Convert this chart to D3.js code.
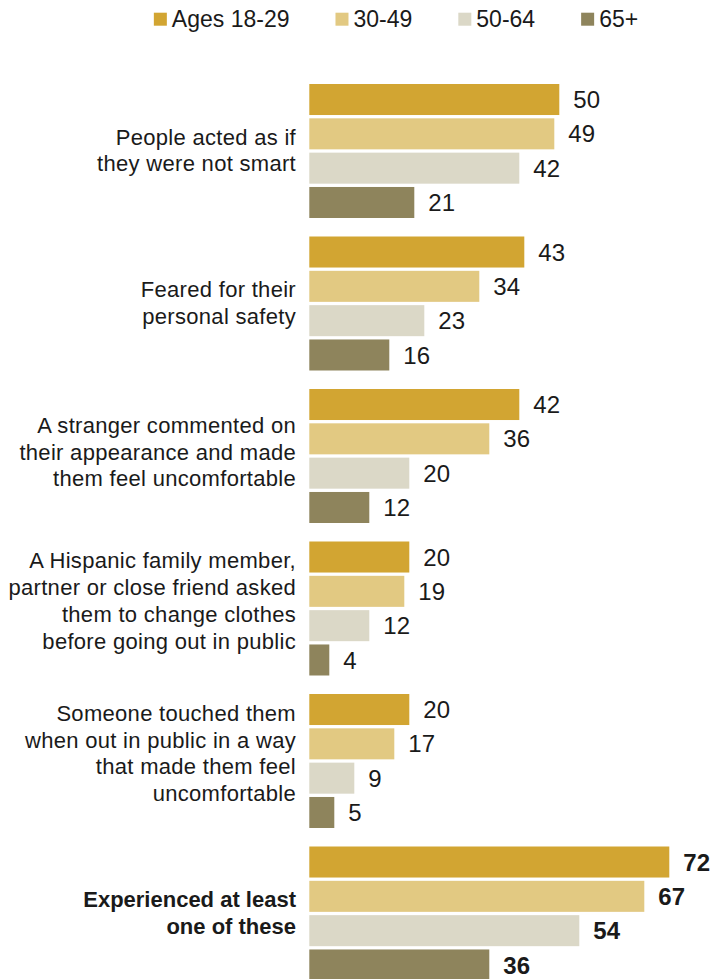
<!DOCTYPE html>
<html>
<head>
<meta charset="utf-8">
<script src="https://cdn.jsdelivr.net/npm/d3@7"></script>
<style>
  html, body { margin: 0; padding: 0; background: #fff; }
  svg { display: block; }
  text { font-family: "Liberation Sans", Arial, sans-serif; fill: #1a1a1a; }
</style>
</head>
<body>
<svg id="chart" width="715" height="979"></svg>
<script>
// Share of Hispanic adults who experienced each situation, by age group
const categories = [
  ["People acted as if", "they were not smart"],
  ["Feared for their", "personal safety"],
  ["A stranger commented on", "their appearance and made", "them feel uncomfortable"],
  ["A Hispanic family member,", "partner or close friend asked", "them to change clothes", "before going out in public"],
  ["Someone touched them", "when out in public in a way", "that made them feel", "uncomfortable"],
  ["Experienced at least", "one of these"]
];
const seriesNames = ["Ages 18-29", "30-49", "50-64", "65+"];
const ages18to29 = [50, 43, 42, 20, 20, 72];
const ages30to49 = [49, 34, 36, 19, 17, 67];
const ages50to64 = [42, 23, 20, 12, 9, 54];
const ages65plus = [21, 16, 12, 4, 5, 36];
const seriesColors = ["#d2a532", "#e2c982", "#dbd8c7", "#8e845c"];

const seriesValues = [ages18to29, ages30to49, ages50to64, ages65plus];
const totalIndex = categories.length - 1;

const svg = d3.select("#chart");

const groupIdx = d3.range(categories.length);
const y0 = d3.scaleBand()
  .domain(groupIdx)
  .range([84, 84 + categories.length * 152.5 - 18.5])
  .paddingInner(18.5 / 152.5)
  .paddingOuter(0);

const y1 = d3.scaleBand()
  .domain(d3.range(seriesNames.length))
  .range([0, y0.bandwidth()])
  .paddingInner(0.096)
  .paddingOuter(0);

const x = d3.scaleLinear().domain([0, 100]).range([309.3, 809.3]);

// Legend
const legend = svg.append("g").attr("class", "legend");
let lx = 0;
seriesNames.forEach((name, i) => {
  const item = legend.append("g").attr("transform", `translate(${lx},0)`);
  item.append("rect")
    .attr("x", 0).attr("y", 12.7)
    .attr("width", 13).attr("height", 13)
    .attr("fill", seriesColors[i]);
  const t = item.append("text")
    .attr("x", 18).attr("y", 26.5)
    .attr("font-size", 23)
    .text(name);
  lx += 18 + t.node().getComputedTextLength() + 46;
});
const legendWidth = lx - 46;
legend.attr("transform", `translate(${396 - legendWidth / 2},0)`);

// Bars and value labels
const groups = svg.append("g").selectAll("g.group")
  .data(groupIdx)
  .join("g")
  .attr("class", "group")
  .attr("transform", g => `translate(0,${y0(g)})`);

groups.selectAll("rect")
  .data(g => seriesValues.map((vals, s) => ({ g, s, v: vals[g] })))
  .join("rect")
  .attr("x", x(0))
  .attr("y", d => y1(d.s))
  .attr("width", d => x(d.v) - x(0))
  .attr("height", y1.bandwidth())
  .attr("fill", d => seriesColors[d.s]);

groups.selectAll("text.value")
  .data(g => seriesValues.map((vals, s) => ({ g, s, v: vals[g] })))
  .join("text")
  .attr("class", "value")
  .attr("x", d => x(d.v) + 14)
  .attr("y", d => y1(d.s) + y1.bandwidth() / 2 + 8.6)
  .attr("font-size", 24)
  .attr("font-weight", d => d.g === totalIndex ? "bold" : "normal")
  .text(d => d.v);

// Category labels, right-aligned beside each group
const lineH = 26.7;
groups.each(function (g) {
  const lines = categories[g];
  const n = lines.length;
  const center = y0.bandwidth() / 2;
  const first = center - (n - 1) / 2 * lineH + (14 - 3.5 * n);
  const isTotal = g === totalIndex;
  const t = d3.select(this).append("text")
    .attr("class", "category")
    .attr("text-anchor", "end")
    .attr("font-size", 22)
    .attr("letter-spacing", isTotal ? 0 : 0.3)
    .attr("font-weight", isTotal ? "bold" : "normal");
  lines.forEach((line, i) => {
    t.append("tspan")
      .attr("x", 296)
      .attr("y", first + i * lineH)
      .text(line);
  });
});
</script>
</body>
</html>
